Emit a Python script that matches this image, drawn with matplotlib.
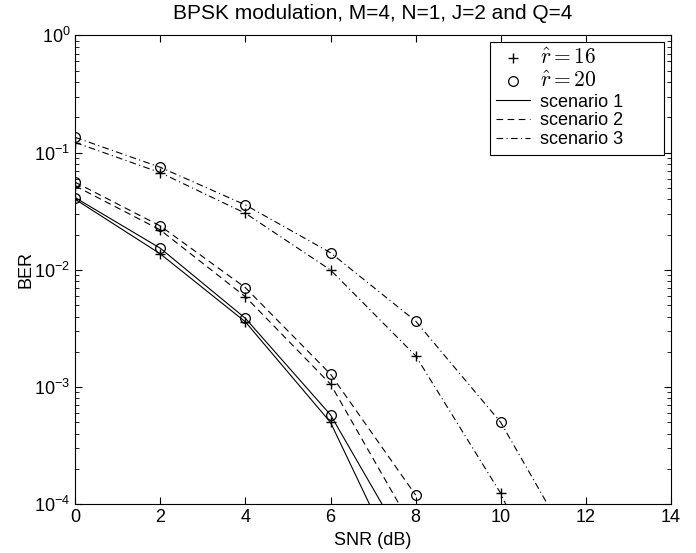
import matplotlib
matplotlib.use('Agg')
import matplotlib.pyplot as plt
from matplotlib.lines import Line2D

plt.rcParams['font.family'] = ['Liberation Sans', 'DejaVu Sans']
plt.rcParams['mathtext.fontset'] = 'cm'

# SNR in dB
snr = [0, 2, 4, 6, 8, 10, 12]

# BER, scenario 1 (letzter Punkt liegt unter der Achse)
s1_r16 = [0.040, 0.0137, 0.0036, 5.0e-4, 1.5e-5]
s1_r20 = [0.0413, 0.0153, 0.00386, 5.8e-4, 3.2e-5]
# scenario 2
s2_r16 = [0.052, 0.0219, 0.0059, 0.00106, 5.7e-5]
s2_r20 = [0.0559, 0.0237, 0.00705, 0.00129, 1.2e-4]
# scenario 3
s3_r16 = [0.122, 0.0675, 0.0304, 0.00998, 0.00185, 1.24e-4, 3.4e-6]
s3_r20 = [0.135, 0.075, 0.0358, 0.0140, 0.00366, 5.0e-4, 2.7e-5]

fig = plt.figure(figsize=(6.96, 5.53), dpi=100)
ax = fig.add_axes([0.108, 0.088, 0.856, 0.848])

lw = 0.8
dash = (0, (6, 4))
dashdot = (0, (6, 3, 1, 3))
ax.semilogy(snr[:5], s1_r16, 'k-', marker='+', lw=lw, ms=7, mew=1)
ax.semilogy(snr[:5], s1_r20, 'k-', marker='o', mfc='none', lw=lw, ms=7, mew=0.9)
ax.semilogy(snr[:5], s2_r16, 'k', ls=dash, marker='+', lw=lw, ms=7, mew=1)
ax.semilogy(snr[:5], s2_r20, 'k', ls=dash, marker='o', mfc='none', lw=lw, ms=7, mew=0.9)
ax.semilogy(snr, s3_r16, 'k', ls=dashdot, marker='+', lw=lw, ms=7, mew=1)
ax.semilogy(snr, s3_r20, 'k', ls=dashdot, marker='o', mfc='none', lw=lw, ms=7, mew=0.9)

ax.set_xlim(0, 14)
ax.set_ylim(1e-4, 1)
ax.set_xticks(range(0, 15, 2))
ax.tick_params(which='both', direction='in', top=True, right=True, labelsize=13)
ax.tick_params(which='major', length=5)
ax.tick_params(which='minor', length=3)
for s in ax.spines.values():
    s.set_linewidth(0.8)

ax.set_title('BPSK modulation, M=4, N=1, J=2 and Q=4', fontsize=15, pad=12)
ax.set_xlabel('SNR (dB)', fontsize=13, labelpad=4)
ax.set_ylabel('BER', fontsize=13, labelpad=0)

handles = [
    Line2D([], [], color='k', ls='none', marker='+', ms=7, mew=1),
    Line2D([], [], color='k', ls='none', marker='o', mfc='none', ms=7, mew=0.9),
    Line2D([], [], color='k', ls='-', lw=lw),
    Line2D([], [], color='k', ls=dash, lw=lw),
    Line2D([], [], color='k', ls=dashdot, lw=lw),
]
labels = [r'$\hat{r}=16$', r'$\hat{r}=20$', 'scenario 1', 'scenario 2', 'scenario 3']
leg = ax.legend(handles, labels, loc='upper left', bbox_to_anchor=(0.696, 0.7515, 0.292, 0.235),
                mode='expand', fontsize=13, fancybox=False, edgecolor='k', framealpha=1,
                borderaxespad=0, handlelength=1.9, labelspacing=0.1, borderpad=0.35,
                handletextpad=0.55)
leg.get_frame().set_linewidth(0.8)
for t in leg.get_texts()[:2]:
    t.set_fontsize(15.5)

fig.savefig('out.png', dpi=100)
